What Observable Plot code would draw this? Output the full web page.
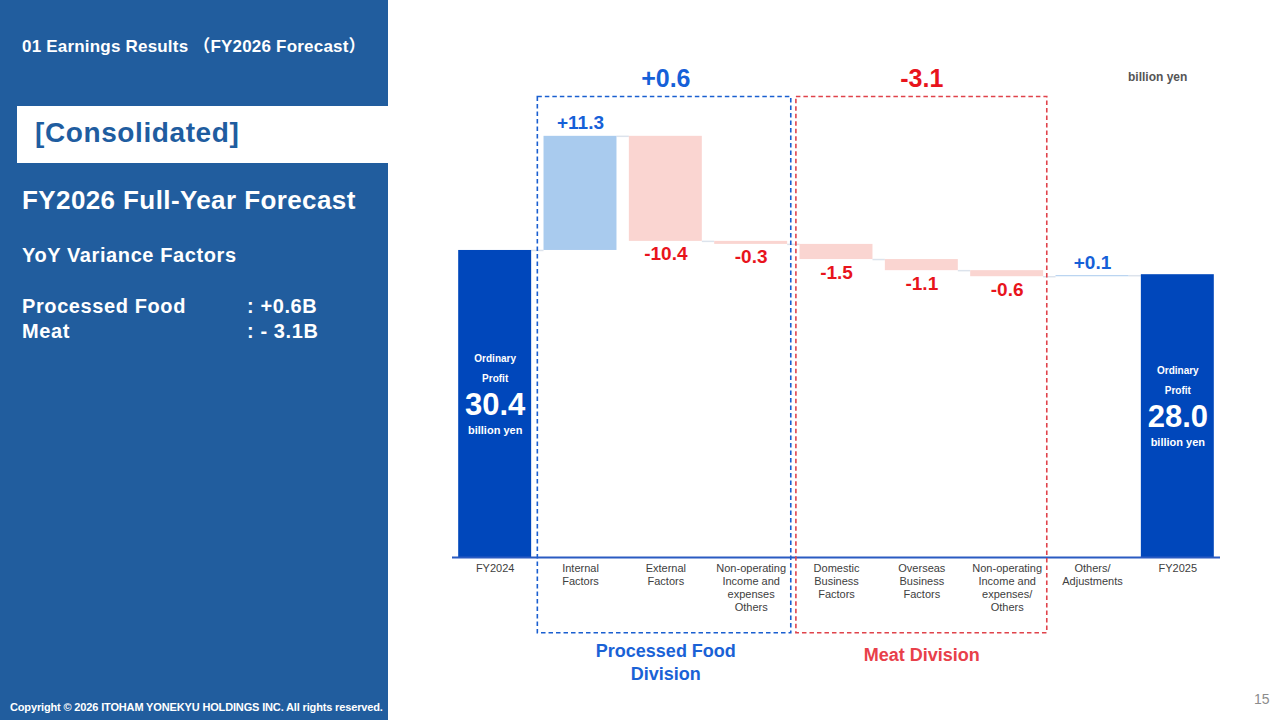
<!DOCTYPE html>
<html>
<head>
<meta charset="utf-8">
<script src="https://cdn.jsdelivr.net/npm/d3@7"></script>
<script src="https://cdn.jsdelivr.net/npm/@observablehq/plot@0.6"></script>
<style>
  html, body { margin: 0; padding: 0; }
  body { width: 1280px; height: 720px; position: relative; overflow: hidden; background: #fff;
         font-family: "Liberation Sans", Arial, "Noto Sans CJK JP", sans-serif; }
  #side { position: absolute; left: 0; top: 0; width: 388px; height: 720px; background: #215D9E; color: #fff; }
  #side .t { position: absolute; white-space: pre; font-weight: bold; }
  #section { left: 22px; top: 32px; font-size: 17px; letter-spacing: 0.2px; }
  #band { position: absolute; left: 17px; top: 106px; width: 371px; height: 57px; background: #fff; }
  #band span { position: absolute; left: 18px; top: 11px; font-size: 28px; color: #1F5DA0; font-weight: bold; letter-spacing: 0.6px; }
  #head { left: 22px; top: 185px; font-size: 26px; letter-spacing: 0.4px; }
  #sub { left: 22px; top: 244px; font-size: 20px; letter-spacing: 0.6px; }
  .row { font-size: 20px; letter-spacing: 0.6px; }
  #copy { left: 10px; top: 701px; font-size: 11px; letter-spacing: -0.15px; }
  #unit { position: absolute; left: 1128px; top: 70px; font-size: 12px; font-weight: bold; color: #555; }
  #page { position: absolute; left: 1254px; top: 691px; font-size: 14px; color: #8c8c8c; }
  #chart { position: absolute; left: 400px; top: 0; }
  #chart svg { overflow: visible; }
</style>
</head>
<body>
<div id="side">
  <div class="t" id="section">01 Earnings Results （FY2026 Forecast）</div>
  <div id="band"><span>[Consolidated]</span></div>
  <div class="t" id="head">FY2026 Full-Year Forecast</div>
  <div class="t" id="sub">YoY Variance Factors</div>
  <div class="t row" style="left:22px; top:295px;">Processed Food</div>
  <div class="t row" style="left:247px; top:295px;">: +0.6B</div>
  <div class="t row" style="left:22px; top:320px;">Meat</div>
  <div class="t row" style="left:247px; top:320px;">: - 3.1B</div>
  <div class="t" id="copy">Copyright © 2026 ITOHAM YONEKYU HOLDINGS INC. All rights reserved.</div>
</div>
<div id="unit">billion yen</div>
<div id="page">15</div>
<div id="chart"></div>
<script>
// Ordinary profit bridge, FY2024 → FY2025 (billion yen)
const categories = [
  "FY2024",
  "Internal\nFactors",
  "External\nFactors",
  "Non-operating\nIncome and\nexpenses\nOthers",
  "Domestic\nBusiness\nFactors",
  "Overseas\nBusiness\nFactors",
  "Non-operating\nIncome and\nexpenses/\nOthers",
  "Others/\nAdjustments",
  "FY2025"
];
const values = [30.4, 11.3, -10.4, -0.3, -1.5, -1.1, -0.6, 0.1, 28.0];
const isTotal = [true, false, false, false, false, false, false, false, true];
const valueLabels = ["30.4", "+11.3", "-10.4", "-0.3", "-1.5", "-1.1", "-0.6", "+0.1", "28.0"];

// Division groupings (index ranges of categories) with their subtotals
const groupNames = ["Processed Food\nDivision", "Meat Division"];
const groupTotals = ["+0.6", "-3.1"];
const groupFirst = [1, 4];
const groupLast = [3, 6];

const BLUE_DARK = "#0047BB", BLUE_LIGHT = "#A9CBEE", PINK = "#FAD5D1";
const LABEL_BLUE = "#1560D8", LABEL_RED = "#E8141C";
const GROUP_STROKE = ["#1A5FD0", "#E0434B"];
const GROUP_TEXT = ["#1A62D6", "#E8404A"];
const HALF = 0.4275;

// running totals → floating bars
let run = 0;
const bars = values.map((v, i) => {
  let y1, y2;
  if (isTotal[i]) { y1 = 0; y2 = v; run = v; }
  else { y1 = run; y2 = run + v; run = run + v; }
  return {i, v, y1, y2, top: Math.max(y1, y2), bottom: Math.min(y1, y2), total: isTotal[i], label: valueLabels[i]};
});
const connectors = bars.slice(0, -1).map(b => ({i: b.i, level: b.y2}));
const groups = groupNames.map((name, g) => ({g, name, total: groupTotals[g], a: groupFirst[g], b: groupLast[g]}));

const deltas = bars.filter(d => !d.total);
const ups = deltas.filter(d => d.v > 0);
const downs = deltas.filter(d => d.v < 0);
const totals = bars.filter(d => d.total);

const chart = Plot.plot({
  width: 880,
  height: 720,
  marginLeft: 52,
  marginRight: 60,
  marginTop: 52,
  marginBottom: 163,
  x: {domain: [-0.5, 8.5], axis: null},
  y: {domain: [0, 50], axis: null},
  style: {fontFamily: "'Liberation Sans', Arial, sans-serif", background: "transparent"},
  marks: [
    // connectors between adjacent bars
    Plot.ruleY(connectors, {y: "level", x1: d => d.i + HALF, x2: d => d.i + 1 - HALF, stroke: "#DCE3EC", strokeWidth: 1.5}),
    // bars
    Plot.rect(bars, {
      x1: d => d.i - HALF, x2: d => d.i + HALF, y1: "y1", y2: "y2",
      fill: d => d.total ? BLUE_DARK : (d.v > 0 ? BLUE_LIGHT : PINK)
    }),
    // baseline
    Plot.ruleY([0], {stroke: "#2A5BC2", strokeWidth: 2}),
    // category labels
    Plot.axisX({
      ticks: d3.range(categories.length), tickFormat: i => categories[i],
      tickSize: 0, tickPadding: 5, fontSize: 11, fill: "#404040", lineHeight: 1.18, label: null
    }),
    // delta value labels
    Plot.text(ups, {x: "i", y: "top", text: "label", dy: -13, fill: LABEL_BLUE, fontSize: 19, fontWeight: "bold"}),
    Plot.text(downs, {x: "i", y: "bottom", text: "label", dy: 13, fill: LABEL_RED, fontSize: 19, fontWeight: "bold"}),
    // total bar labels
    Plot.text(totals, {x: "i", y: d => d.v / 2, text: () => "Ordinary", dy: -45, fill: "white", fontSize: 10, fontWeight: "bold"}),
    Plot.text(totals, {x: "i", y: d => d.v / 2, text: () => "Profit", dy: -25, fill: "white", fontSize: 10, fontWeight: "bold"}),
    Plot.text(totals, {x: "i", y: d => d.v / 2, text: "label", dy: 1, fill: "white", fontSize: 31, fontWeight: "bold"}),
    Plot.text(totals, {x: "i", y: d => d.v / 2, text: () => "billion yen", dy: 26, fill: "white", fontSize: 11, fontWeight: "bold"}),
    // division frames
    Plot.rect(groups, {
      x1: d => d.a - 0.5 + (d.g ? 0.03 : 0), x2: d => d.b + 0.5 - 0.03,
      y1: -7.5, y2: 45.6, fill: "none", stroke: d => GROUP_STROKE[d.g],
      strokeWidth: 1.6, strokeDasharray: "4.5,3"
    }),
    // division subtotals
    Plot.text(groups, {x: d => (d.a + d.b) / 2, y: 47.4, text: "total", fill: d => [LABEL_BLUE, LABEL_RED][d.g], fontSize: 25, fontWeight: "bold"}),
    // division names
    Plot.text(groups.filter(d => d.g === 0), {x: d => (d.a + d.b) / 2, y: -7.5, dy: 7, lineAnchor: "top", lineHeight: 1.28, text: "name", fill: d => GROUP_TEXT[d.g], fontSize: 18, fontWeight: "bold"}),
    Plot.text(groups.filter(d => d.g === 1), {x: d => (d.a + d.b) / 2, y: -7.5, dy: 15, lineAnchor: "top", text: "name", fill: d => GROUP_TEXT[d.g], fontSize: 18, fontWeight: "bold"})
  ]
});
document.getElementById("chart").appendChild(chart);
</script>
</body>
</html>
